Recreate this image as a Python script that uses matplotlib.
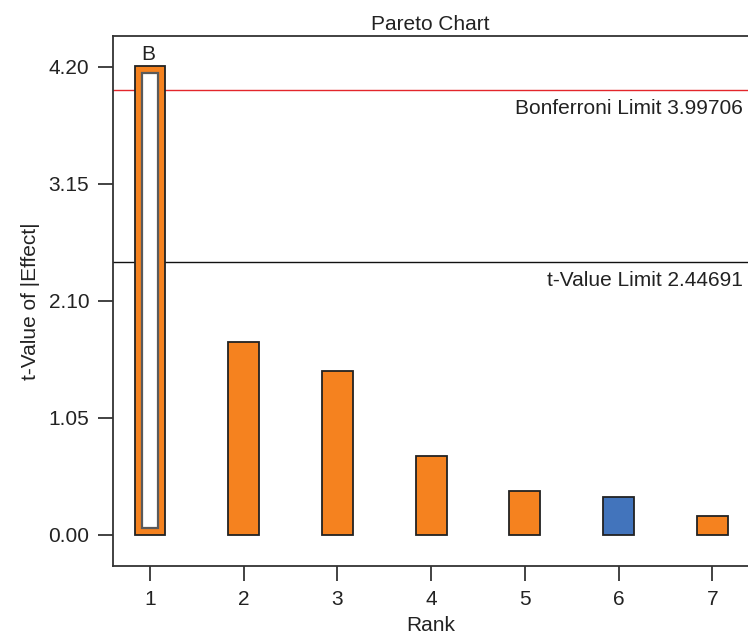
import matplotlib.pyplot as plt

plt.rcParams['font.family'] = ['Liberation Sans', 'DejaVu Sans']

# Pareto chart of t-values
ranks = [1, 2, 3, 4, 5, 6, 7]
t_values = [4.21, 1.733, 1.475, 0.712, 0.398, 0.338, 0.168]
effect_sign = ['+', '+', '+', '+', '+', '-', '+']
term_labels = ['B', '', '', '', '', '', '']
selected = [True, False, False, False, False, False, False]
bonferroni_limit = 3.99706
t_limit = 2.44691
y_ticks = [0.00, 1.05, 2.10, 3.15, 4.20]

ORANGE = '#F5821F'
BLUE = '#4274BC'
EDGE = '#222222'
TXT = '#222222'
FS = 15

fig = plt.figure(figsize=(7.48, 6.35), dpi=100)
ax = fig.add_axes([0.151, 0.1087, 0.849, 0.8346])

colors = [ORANGE if s == '+' else BLUE for s in effect_sign]
ax.bar(ranks, t_values, width=0.33, color=colors, edgecolor=EDGE, linewidth=1.3, zorder=3)

# highlight of the selected term: white inner box
inset = 0.06
for r, v, sel in zip(ranks, t_values, selected):
    if sel:
        ax.bar(r, v - 2 * inset, bottom=inset, width=0.165, color='white',
               edgecolor='#5a5a5a', linewidth=1.6, zorder=4)

for r, v, lab in zip(ranks, t_values, term_labels):
    if lab:
        ax.text(r - 0.02, v + 0.02, lab, ha='center', va='bottom', fontsize=FS, color=TXT)

ax.axhline(bonferroni_limit, color='#E3262B', linewidth=1.0, zorder=2)
ax.axhline(t_limit, color='#111111', linewidth=1.0, zorder=2)
ax.text(7.32, bonferroni_limit - 0.08, 'Bonferroni Limit %.5f' % bonferroni_limit,
        ha='right', va='top', fontsize=FS, color=TXT)
ax.text(7.32, t_limit - 0.08, 't-Value Limit %.5f' % t_limit,
        ha='right', va='top', fontsize=FS, color=TXT)

ax.set_xlim(0.605, 7.38)
ax.set_ylim(-0.278, 4.478)
ax.set_xticks(ranks)
ax.set_yticks(y_ticks)
ax.set_yticklabels(['%.2f' % t for t in y_ticks])
ax.tick_params(direction='out', length=11, width=1.2, color='#222222',
               labelsize=FS, labelcolor=TXT, pad=6)

for side in ['left', 'bottom', 'top']:
    ax.spines[side].set_color('#333333')
    ax.spines[side].set_linewidth(1.3)
ax.spines['right'].set_visible(False)

ax.set_title('Pareto Chart', fontsize=FS, color=TXT, pad=4)
ax.set_xlabel('Rank', fontsize=FS, color=TXT, labelpad=5)
ax.set_ylabel('t-Value of |Effect|', fontsize=FS, color=TXT, labelpad=6)

fig.savefig('out.png', dpi=100)
